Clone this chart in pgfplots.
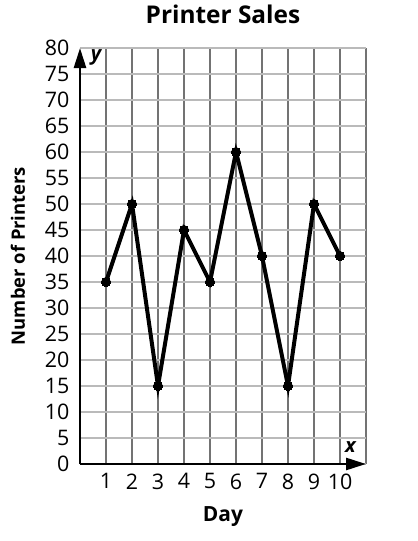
\documentclass[border=0pt]{standalone}
\usepackage{fontspec}
\setmainfont{Open Sans}
\usepackage{pgfplots}
\pgfplotsset{compat=1.18}
\usetikzlibrary{arrows.meta}
\begin{document}
\begin{tikzpicture}
\begin{axis}[
  x=26bp, y=5.2bp,
  xmin=0, xmax=11, ymin=0, ymax=80,
  axis lines=left,
  axis line style={line width=2.6bp, -{Triangle[length=20bp,width=12bp]}},
  xtick={1,2,3,4,5,6,7,8,9,10,11},
  xticklabels={1,2,3,4,5,6,7,8,9,10,{}},
  ytick={0,5,10,15,20,25,30,35,40,45,50,55,60,65,70,75,80},
  major tick length=0pt,
  grid=major,
  x grid style={color=black!55, line width=1.2bp},
  y grid style={color=black!27, line width=1.6bp},
  /pgf/number format/assume math mode=true,
  tick label style={font=\fontsize{21.5}{25}\selectfont, black},
  yticklabel style={xshift=-7bp},
  xticklabel style={yshift=-6bp},
  title={Printer Sales},
  title style={font=\bfseries\fontsize{24.5}{28}\selectfont, at={(rel axis cs:0.5,1)}, anchor=center, yshift=28bp},
  xlabel={Day},
  xlabel style={font=\bfseries\fontsize{21}{25}\selectfont, at={(axis description cs:0.5,0)}, anchor=center, yshift=-53bp},
  ylabel={Number of Printers},
  ylabel style={font=\bfseries\fontsize{18.5}{22}\selectfont, at={(axis description cs:-0.2168,0.5)}, anchor=center, rotate=0},
  clip=false,
]
\addplot[black, line width=4bp, mark=*, mark size=4.8bp, mark options={line width=0pt}] coordinates {
  (1,35) (2,50) (3,15) (4,45) (5,35) (6,60) (7,40) (8,15) (9,50) (10,40)
};
\node[font=\bfseries\itshape\fontsize{20}{24}\selectfont] at (axis cs:0.62,78.2) {y};
\node[font=\bfseries\itshape\fontsize{20}{24}\selectfont] at (axis cs:10.4,3.3) {x};
\coordinate (O) at (axis cs:0,0);
\end{axis}
\pgfresetboundingbox
\path (O) ++(-80bp,-77bp) rectangle ++(418bp,541bp);
\end{tikzpicture}
\end{document}
